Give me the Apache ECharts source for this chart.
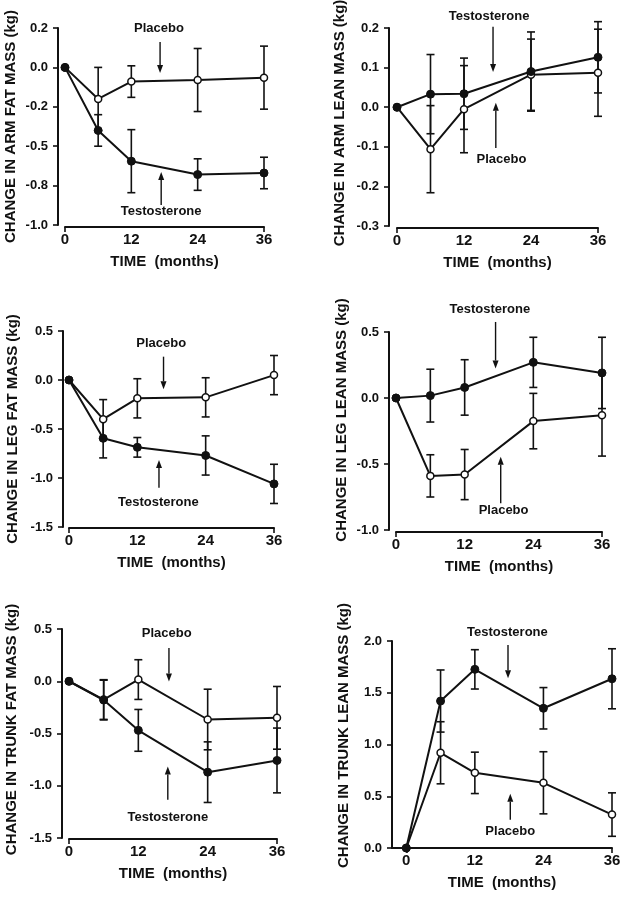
<!DOCTYPE html>
<html><head><meta charset="utf-8">
<script src="https://cdn.jsdelivr.net/npm/echarts@6/dist/echarts.min.js"></script>
<style>html,body{margin:0;padding:0;background:#fff}#c{width:624px;height:899px}</style>
</head><body><div id="c"></div>
<script>
// ---------------- DATA ----------------
const months = [0, 6, 12, 24, 36];
const xTickValues = [0, 12, 24, 36];
const xTickLabels = ['0', '12', '24', '36'];

const armFatPlacebo = [0, -0.20, -0.09, -0.08, -0.065];
const armFatPlaceboErr = [0, 0.20, 0.10, 0.20, 0.20];
const armFatTesto = [0, -0.40, -0.595, -0.68, -0.67];
const armFatTestoErr = [0, 0.10, 0.20, 0.10, 0.10];
const armFatTickValues = [0.25, 0, -0.25, -0.5, -0.75, -1.0];
const armFatTickLabels = ['0.2', '0.0', '-0.2', '-0.5', '-0.8', '-1.0'];

const armLeanPlacebo = [0, -0.106, -0.005, 0.082, 0.087];
const armLeanPlaceboErr = [0, 0.11, 0.11, 0.09, 0.11];
const armLeanTesto = [0, 0.033, 0.034, 0.09, 0.126];
const armLeanTestoErr = [0, 0.10, 0.09, 0.10, 0.09];
const armLeanTickValues = [0.2, 0.1, 0, -0.1, -0.2, -0.3];
const armLeanTickLabels = ['0.2', '0.1', '0.0', '-0.1', '-0.2', '-0.3'];

const legFatPlacebo = [0, -0.40, -0.187, -0.177, 0.05];
const legFatPlaceboErr = [0, 0.20, 0.20, 0.20, 0.20];
const legFatTesto = [0, -0.595, -0.687, -0.77, -1.06];
const legFatTestoErr = [0, 0.20, 0.10, 0.20, 0.20];
const legFatTickValues = [0.5, 0, -0.5, -1.0, -1.5];
const legFatTickLabels = ['0.5', '0.0', '-0.5', '-1.0', '-1.5'];

const legLeanPlacebo = [0, -0.59, -0.58, -0.175, -0.13];
const legLeanPlaceboErr = [0, 0.16, 0.19, 0.21, 0.31];
const legLeanTesto = [0, 0.018, 0.08, 0.27, 0.19];
const legLeanTestoErr = [0, 0.20, 0.21, 0.19, 0.27];
const legLeanTickValues = [0.5, 0, -0.5, -1.0];
const legLeanTickLabels = ['0.5', '0.0', '-0.5', '-1.0'];

const trunkFatPlacebo = [0, -0.175, 0.016, -0.366, -0.35];
const trunkFatPlaceboErr = [0, 0.19, 0.19, 0.29, 0.30];
const trunkFatTesto = [0, -0.18, -0.47, -0.87, -0.758];
const trunkFatTestoErr = [0, 0.19, 0.20, 0.29, 0.31];
const trunkFatTickValues = [0.5, 0, -0.5, -1.0, -1.5];
const trunkFatTickLabels = ['0.5', '0.0', '-0.5', '-1.0', '-1.5'];

const trunkLeanPlacebo = [0, 0.92, 0.726, 0.63, 0.323];
const trunkLeanPlaceboErr = [0, 0.30, 0.20, 0.30, 0.21];
const trunkLeanTesto = [0, 1.42, 1.726, 1.35, 1.635];
const trunkLeanTestoErr = [0, 0.30, 0.19, 0.20, 0.29];
const trunkLeanTickValues = [2.0, 1.5, 1.0, 0.5, 0.0];
const trunkLeanTickLabels = ['2.0', '1.5', '1.0', '0.5', '0.0'];

const yTitles = [
  'CHANGE IN ARM FAT MASS (kg)', 'CHANGE IN ARM LEAN MASS (kg)',
  'CHANGE IN LEG FAT MASS (kg)', 'CHANGE IN LEG LEAN MASS (kg)',
  'CHANGE IN TRUNK FAT MASS (kg)', 'CHANGE IN TRUNK LEAN MASS (kg)'
];
const xTitle = 'TIME  (months)';
const placeboName = 'Placebo';
const testoName = 'Testosterone';

// ---------------- LAYOUT ----------------
const FONT = '"Liberation Sans", Arial, Helvetica, sans-serif';
const INK = '#111';
const panels = [
  { p: armFatPlacebo, pe: armFatPlaceboErr, t: armFatTesto, te: armFatTestoErr,
    tv: armFatTickValues, tl: armFatTickLabels, step: 0.25,
    grid: {left: 65, top: 28, width: 199, height: 197}, yOff: 7, xOff: 2, nameGap: 40, nameShift: 0, xMin: 0,
    notes: [ {text: placeboName, at: [17.0, 0.25], from: [17.2, 0.161], to: [17.2, -0.036]},
             {text: testoName, at: [17.4, -0.911], from: [17.4, -0.873], to: [17.4, -0.664]} ] },
  { p: armLeanPlacebo, pe: armLeanPlaceboErr, t: armLeanTesto, te: armLeanTestoErr,
    tv: armLeanTickValues, tl: armLeanTickLabels, step: 0.1,
    grid: {left: 397, top: 28, width: 201, height: 198}, yOff: 8, xOff: 2, nameGap: 42, nameShift: 4, xMin: 0,
    notes: [ {text: testoName, at: [16.5, 0.228], from: [17.2, 0.203], to: [17.2, 0.089]},
             {text: placeboName, at: [18.7, -0.133], from: [17.7, -0.103], to: [17.7, 0.011]} ] },
  { p: legFatPlacebo, pe: legFatPlaceboErr, t: legFatTesto, te: legFatTestoErr,
    tv: legFatTickValues, tl: legFatTickLabels, step: 0.5,
    grid: {left: 69, top: 331, width: 205, height: 196}, yOff: 6, xOff: 1, nameGap: 43, nameShift: 0, xMin: 0,
    notes: [ {text: placeboName, at: [16.2, 0.376], from: [16.6, 0.238], to: [16.6, -0.095]},
             {text: testoName, at: [15.7, -1.252], from: [15.8, -1.099], to: [15.8, -0.816]} ] },
  { p: legLeanPlacebo, pe: legLeanPlaceboErr, t: legLeanTesto, te: legLeanTestoErr,
    tv: legLeanTickValues, tl: legLeanTickLabels, step: 0.5,
    grid: {left: 396, top: 332, width: 206, height: 198}, yOff: 7, xOff: 2, nameGap: 40, nameShift: 11, xMin: 0,
    notes: [ {text: testoName, at: [16.4, 0.67], from: [17.4, 0.576], to: [17.4, 0.223]},
             {text: placeboName, at: [18.8, -0.854], from: [18.3, -0.798], to: [18.3, -0.446]} ] },
  { p: trunkFatPlacebo, pe: trunkFatPlaceboErr, t: trunkFatTesto, te: trunkFatTestoErr,
    tv: trunkFatTickValues, tl: trunkFatTickLabels, step: 0.5,
    grid: {left: 69, top: 629, width: 208, height: 209}, yOff: 7, xOff: 1, nameGap: 43, nameShift: 4, xMin: 0,
    notes: [ {text: placeboName, at: [16.9, 0.455], from: [17.3, 0.318], to: [17.3, -0.002]},
             {text: testoName, at: [17.1, -1.30], from: [17.1, -1.134], to: [17.1, -0.815]} ] },
  { p: trunkLeanPlacebo, pe: trunkLeanPlaceboErr, t: trunkLeanTesto, te: trunkLeanTestoErr,
    tv: trunkLeanTickValues, tl: trunkLeanTickLabels, step: 0.5,
    grid: {left: 392, top: 641, width: 220, height: 207}, yOff: 0, xOff: 0, nameGap: 41, nameShift: 9, xMin: -2.5,
    notes: [ {text: testoName, at: [17.7, 2.084], from: [17.8, 1.961], to: [17.8, 1.64]},
             {text: placeboName, at: [18.2, 0.16], from: [18.2, 0.273], to: [18.2, 0.524]} ] }
];

// ---------------- BUILD ----------------
const grids = [], xAxes = [], yAxes = [], series = [];
function labelFor(tv, tl) {
  return v => { const i = tv.findIndex(t => Math.abs(t - v) < 1e-6); return i >= 0 ? tl[i] : ''; };
}
function errRender(params, api) {
  const x = api.value(0), y = api.value(1), e = api.value(2);
  if (!e) return null;
  const a = api.coord([x, y + e]), b = api.coord([x, y - e]);
  const w = 4, st = {stroke: INK, lineWidth: 1.6};
  return {type: 'group', children: [
    {type: 'line', shape: {x1: a[0], y1: a[1], x2: b[0], y2: b[1]}, style: st},
    {type: 'line', shape: {x1: a[0] - w, y1: a[1], x2: a[0] + w, y2: a[1]}, style: st},
    {type: 'line', shape: {x1: b[0] - w, y1: b[1], x2: b[0] + w, y2: b[1]}, style: st}
  ]};
}
panels.forEach((pn, i) => {
  grids.push(Object.assign({containLabel: false, outerBoundsMode: 'none'}, pn.grid));
  xAxes.push({
    type: 'value', gridIndex: i, min: pn.xMin, max: 36, offset: pn.xOff,
    name: xTitle, nameLocation: 'middle', nameGap: 27,
    nameTextStyle: {fontFamily: FONT, fontWeight: 'bold', fontSize: 15, color: INK},
    axisLine: {onZero: false, lineStyle: {color: INK, width: 2}},
    axisTick: {show: true, customValues: [0, 36], length: 5, lineStyle: {color: INK, width: 1.6}},
    axisLabel: {customValues: xTickValues, margin: 5, fontFamily: FONT, fontWeight: 'bold', fontSize: 15, color: INK,
      formatter: labelFor(xTickValues, xTickLabels)},
    splitLine: {show: false}
  });
  const tv = pn.tv;
  yAxes.push({
    type: 'value', gridIndex: i, min: tv[tv.length - 1], max: tv[0], interval: pn.step, offset: pn.yOff,
    name: yTitles[i], nameLocation: 'middle', nameGap: pn.nameGap, nameRotate: 90,
    nameTextStyle: {fontFamily: FONT, fontWeight: 'bold', fontSize: 15, color: INK,
      padding: [0, 0, 0, 2 * pn.nameShift]},
    axisLine: {show: true, onZero: false, lineStyle: {color: INK, width: 2}},
    axisTick: {show: true, length: 5, lineStyle: {color: INK, width: 1.6}},
    axisLabel: {margin: 10, fontFamily: FONT, fontWeight: 'bold', fontSize: 13, color: INK,
      formatter: labelFor(tv, pn.tl)},
    splitLine: {show: false}
  });
  [[pn.p, pn.pe], [pn.t, pn.te]].forEach(([vals, errs]) => {
    series.push({
      type: 'custom', xAxisIndex: i, yAxisIndex: i, renderItem: errRender, z: 1, clip: false,
      encode: {x: 0, y: 1},
      data: months.map((m, k) => [m, vals[k], errs[k]])
    });
  });
  series.push({
    name: placeboName, type: 'line', xAxisIndex: i, yAxisIndex: i, z: 3, clip: false,
    data: months.map((m, k) => [m, pn.p[k]]),
    symbol: 'circle', symbolSize: 7,
    itemStyle: {color: '#fff', borderColor: INK, borderWidth: 1.5},
    lineStyle: {color: INK, width: 2}
  });
  series.push({
    name: testoName, type: 'line', xAxisIndex: i, yAxisIndex: i, z: 4, clip: false,
    data: months.map((m, k) => [m, pn.t[k]]),
    symbol: 'circle', symbolSize: 8,
    itemStyle: {color: INK, borderColor: INK, borderWidth: 1},
    lineStyle: {color: INK, width: 2}
  });
});

const chart = echarts.init(document.getElementById('c'), null, {renderer: 'canvas'});
chart.setOption({
  animation: false, backgroundColor: '#fff',
  grid: grids, xAxis: xAxes, yAxis: yAxes, series: series
});

// annotations (text + arrows), positioned in data coordinates
const graphics = [];
panels.forEach((pn, i) => {
  pn.notes.forEach(n => {
    const at = chart.convertToPixel({gridIndex: i}, n.at);
    const f = chart.convertToPixel({gridIndex: i}, n.from);
    const t = chart.convertToPixel({gridIndex: i}, n.to);
    graphics.push({type: 'text', z: 10, style: {text: n.text, x: at[0], y: at[1], align: 'center', verticalAlign: 'middle',
      fontFamily: FONT, fontWeight: 'bold', fontSize: 13, fill: INK}});
    const dir = t[1] > f[1] ? 1 : -1;
    const head = 8, hw = 3;
    graphics.push({type: 'line', z: 10, shape: {x1: f[0], y1: f[1], x2: t[0], y2: t[1] - dir * head}, style: {stroke: INK, lineWidth: 1.4}});
    graphics.push({type: 'polygon', z: 10, shape: {points: [[t[0], t[1]], [t[0] - hw, t[1] - dir * head], [t[0] + hw, t[1] - dir * head]]},
      style: {fill: INK}});
  });
});
chart.setOption({graphic: graphics});
</script>
</body></html>
